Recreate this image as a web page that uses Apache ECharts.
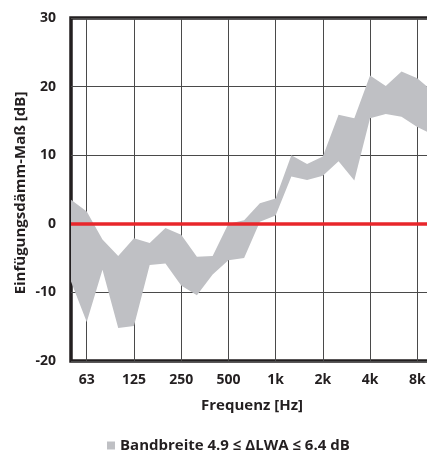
<!DOCTYPE html>
<html>
<head>
<meta charset="utf-8">
<script src="https://cdn.jsdelivr.net/npm/echarts@6/dist/echarts.min.js"></script>
<style>
html,body{margin:0;padding:0;background:#fff;}
#chart{width:427px;height:452px;}
</style>
</head>
<body>
<div id="chart"></div>
<script>
var frequencies = ['50','63','80','100','125','160','200','250','315','400','500','630','800','1k','1.25k','1.6k','2k','2.5k','3.15k','4k','5k','6.3k','8k','10k'];
var tickLabels = ['63','125','250','500','1k','2k','4k','8k'];
var upperValues = [3.5, 1.8, -2.3, -4.7, -2.1, -2.8, -0.6, -1.6, -4.8, -4.7, 0.0, 0.5, 3.0, 3.7, 10.0, 8.7, 9.8, 15.9, 15.4, 21.6, 20.1, 22.2, 21.2, 19.3];
var lowerValues = [-8.4, -14.3, -6.7, -15.2, -14.9, -6.0, -5.8, -9.0, -10.4, -7.4, -5.3, -5.0, 0.3, 1.2, 6.9, 6.4, 7.0, 9.1, 6.3, 15.4, 16.0, 15.6, 14.1, 13.0];
var yTicks = {min: -20, max: 30, step: 10};
var bandName = 'Bandbreite 4.9 \u2264 \u0394LWA \u2264 6.4 dB';

var bandWidth = upperValues.map(function (u, i) { return u - lowerValues[i]; });
var showTick = function (idx) { return tickLabels.indexOf(frequencies[idx]) >= 0; };

var chart = echarts.init(document.getElementById('chart'), null, {renderer: 'canvas'});
var font = '"Open Sans", "DejaVu Sans", sans-serif';
chart.setOption({
  animation: false,
  textStyle: {fontFamily: font},
  grid: {left: 71, top: 18, height: 343, width: 362, show: true, borderColor: '#231f20', borderWidth: 3.5, containLabel: false, outerBoundsMode: 'none'},
  legend: {
    data: [{name: bandName, icon: 'rect'}],
    left: 102, top: 433, itemWidth: 8, itemHeight: 8, itemGap: 4,
    textStyle: {fontFamily: font, fontSize: 15, fontWeight: 'bold', color: '#231f20'}
  },
  xAxis: {
    type: 'category',
    data: frequencies,
    boundaryGap: false,
    axisLine: {show: false},
    axisTick: {show: false},
    axisLabel: {interval: function (i) { return showTick(i); }, fontSize: 14, fontWeight: 'bold', color: '#231f20', margin: 12, fontFamily: font},
    splitLine: {show: true, interval: function (i) { return showTick(i); }, lineStyle: {color: '#4a4a4a', width: 1}},
    name: 'Frequenz [Hz]',
    nameLocation: 'middle',
    nameGap: 37,
    nameTextStyle: {fontSize: 15, fontWeight: 'bold', color: '#231f20', fontFamily: font}
  },
  yAxis: {
    type: 'value',
    min: yTicks.min, max: yTicks.max, interval: yTicks.step,
    axisLine: {show: false},
    axisTick: {show: false},
    axisLabel: {fontSize: 14, fontWeight: 'bold', color: '#231f20', margin: 15, fontFamily: font},
    splitLine: {show: true, lineStyle: {color: '#4a4a4a', width: 1}}
  },
  graphic: [{
    type: 'text', x: 21, y: 193, rotation: Math.PI / 2,
    style: {text: 'Einfügungsdämm-Maß [dB]', fontSize: 15, fontWeight: 'bold', fill: '#231f20', fontFamily: font, align: 'center', verticalAlign: 'middle'}
  }],
  series: [
    {
      name: 'lower', type: 'line', data: lowerValues, stack: 'band', stackStrategy: 'all', symbol: 'none',
      lineStyle: {opacity: 0}, silent: true, z: 2,
      markLine: {symbol: 'none', silent: true, label: {show: false}, lineStyle: {color: '#e8262b', width: 3.5, type: 'solid'}, data: [{yAxis: 0}], z: 5}
    },
    {
      name: bandName, type: 'line', data: bandWidth, stack: 'band', stackStrategy: 'all', symbol: 'none',
      lineStyle: {opacity: 0}, itemStyle: {color: '#bfc0c4'},
      areaStyle: {color: '#bfc0c4', opacity: 1}, z: 2
    }
  ]
});
</script>
</body>
</html>
